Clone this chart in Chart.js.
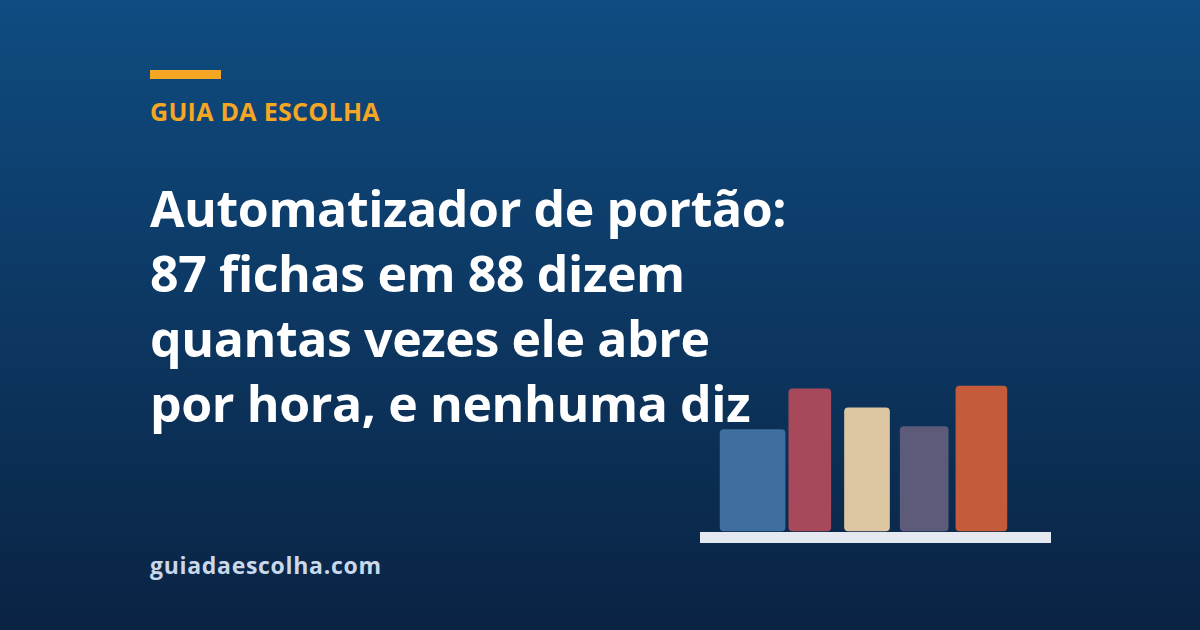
<!DOCTYPE html>
<html lang="pt-BR">
<head>
<meta charset="utf-8">
<script src="https://cdn.jsdelivr.net/npm/chart.js@4"></script>
<style>
    html, body { margin: 0; padding: 0; }
    body {
        width: 1200px; height: 630px; overflow: hidden; position: relative;
        background: linear-gradient(180deg, #0f4c81 0%, #0a2343 100%);
        font-family: "Open Sans", "Noto Sans", sans-serif;
    }
    .accent { position: absolute; left: 150px; top: 70px; width: 71px; height: 9px; background: #f5a623; }
    .kicker { position: absolute; left: 150px; top: 94px; font-size: 25px; font-weight: 700; color: #f5a623; line-height: 34px; letter-spacing: 0.3px; }
    .title {
        position: absolute; left: 150px; top: 176px; margin: 0;
        font-size: 50px; font-weight: 700; color: #ffffff; line-height: 65px; letter-spacing: -0.4px;
    }
    .site { position: absolute; left: 150px; top: 549px; font-size: 23px; font-weight: 700; color: #c9d8ea; line-height: 32px; letter-spacing: 0.7px; }
    #chartBox { position: absolute; left: 700px; top: 380px; width: 351px; height: 165px; }
</style>
</head>
<body>
<div class="accent"></div>
<div class="kicker">GUIA DA ESCOLHA</div>
<h1 class="title">Automatizador de portão:<br>87 fichas em 88 dizem<br>quantas vezes ele abre<br>por hora, e nenhuma diz</h1>
<div class="site">guiadaescolha.com</div>
<div id="chartBox"><canvas id="barras"></canvas></div>

<script>
// dados das barras (decorativas)
const categorias = ['1', '2', '3', '4', '5'];
const valores = [70, 98, 85, 72, 100];

// estilo de cada barra
const cores = ['#3e6f9f', '#a8485b', '#dcc7a2', '#5c5b7a', '#c45c3c'];
const larguras = [65, 42, 45, 48, 51];

// cada barra num dataset próprio para ter largura própria
const datasets = valores.map((v, i) => ({
    data: categorias.map((c, j) => (j === i ? v : null)),
    backgroundColor: cores[i],
    barThickness: larguras[i],
    borderRadius: 4,
    borderSkipped: false,
    grouped: false,
    clip: false
}));

// linha de base clara embaixo das barras
const linhaBase = {
    id: 'linhaBase',
    afterDatasetsDraw(chart) {
        const ctx = chart.ctx;
        ctx.save();
        ctx.fillStyle = '#e4e9f1';
        ctx.fillRect(0, chart.chartArea.bottom + 1, chart.width, 11);
        ctx.restore();
    }
};

new Chart(document.getElementById('barras'), {
    type: 'bar',
    data: { labels: categorias, datasets: datasets },
    options: {
        responsive: true,
        maintainAspectRatio: false,
        animation: false,
        layout: { padding: { left: 24, right: 41, top: 6, bottom: 14 } },
        scales: {
            x: { display: false },
            y: { display: false, min: 0, max: 100 }
        },
        plugins: {
            legend: { display: false },
            tooltip: { enabled: false }
        }
    },
    plugins: [linhaBase]
});
</script>
</body>
</html>
